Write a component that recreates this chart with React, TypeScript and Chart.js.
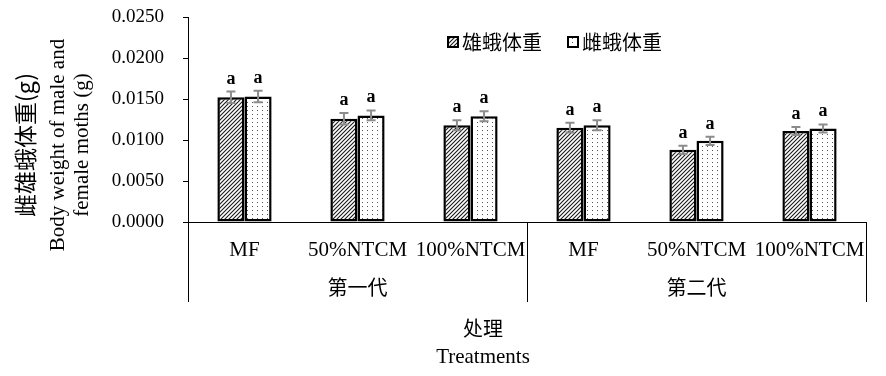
import React, { useEffect, useRef } from 'react';
import { Chart, registerables } from 'chart.js';

Chart.register(...registerables);

const categories = ['MF', '50%NTCM', '100%NTCM', 'MF', '50%NTCM', '100%NTCM'];
const generations = ['第一代', '第二代'];
const generationSize = 3;
const seriesNames = ['雄蛾体重', '雌蛾体重'];
const maleWeight = [0.0152, 0.0126, 0.0118, 0.0115, 0.0088, 0.0111];
const femaleWeight = [0.0153, 0.0130, 0.0129, 0.0118, 0.0099, 0.0114];
const maleErr = [0.0007, 0.0007, 0.0006, 0.0006, 0.0005, 0.0005];
const femaleErr = [0.0007, 0.0006, 0.0006, 0.0006, 0.0005, 0.0005];
const maleLetters = ['a', 'a', 'a', 'a', 'a', 'a'];
const femaleLetters = ['a', 'a', 'a', 'a', 'a', 'a'];
const yTitleCn = '雌雄蛾体重(g)';
const yTitleEn = ['Body weight of male and', 'female moths (g)'];
const xTitleCn = '处理';
const xTitleEn = 'Treatments';

const SERIF = '"Liberation Serif", "DejaVu Serif", serif';
const CJK = '"Noto Sans CJK SC", sans-serif';

function makeHatch(): CanvasPattern | string {
  const c = document.createElement('canvas');
  c.width = 4;
  c.height = 4;
  const g = c.getContext('2d');
  if (!g) return '#555';
  g.fillStyle = '#fff';
  g.fillRect(0, 0, 4, 4);
  g.strokeStyle = '#1a1a1a';
  g.lineWidth = 1.1;
  g.beginPath();
  g.moveTo(0, 4);
  g.lineTo(4, 0);
  g.moveTo(-1, 1);
  g.lineTo(1, -1);
  g.moveTo(3, 5);
  g.lineTo(5, 3);
  g.stroke();
  return g.createPattern(c, 'repeat') || '#555';
}

function makeDots(): CanvasPattern | string {
  const c = document.createElement('canvas');
  c.width = 5;
  c.height = 4;
  const g = c.getContext('2d');
  if (!g) return '#eee';
  g.fillStyle = '#fff';
  g.fillRect(0, 0, 5, 4);
  g.fillStyle = '#555';
  g.fillRect(2, 2, 1, 1);
  return g.createPattern(c, 'repeat') || '#eee';
}

export default function App() {
  const ref = useRef<HTMLCanvasElement | null>(null);

  useEffect(() => {
    if (!ref.current) return;
    const hatch = makeHatch();
    const dots = makeDots();
    const errs = [maleErr, femaleErr];
    const letters = [maleLetters, femaleLetters];
    const fills = [hatch, dots];

    const overlay = {
      id: 'overlay',
      afterDraw(chart: any) {
        const ctx = chart.ctx as CanvasRenderingContext2D;
        const xs = chart.scales.x;
        const ys = chart.scales.y;
        const area = chart.chartArea;
        ctx.save();

        // error bars + letters
        chart.data.datasets.forEach((ds: any, i: number) => {
          const meta = chart.getDatasetMeta(i);
          meta.data.forEach((bar: any, j: number) => {
            const v = ds.data[j] as number;
            const e = errs[i][j];
            const yt = ys.getPixelForValue(v + e);
            const yb = ys.getPixelForValue(v - e);
            ctx.strokeStyle = '#8c8c8c';
            ctx.lineWidth = 2;
            ctx.beginPath();
            ctx.moveTo(bar.x, yt);
            ctx.lineTo(bar.x, yb);
            ctx.moveTo(bar.x - 4.5, yt);
            ctx.lineTo(bar.x + 4.5, yt);
            ctx.moveTo(bar.x - 4.5, yb);
            ctx.lineTo(bar.x + 4.5, yb);
            ctx.stroke();
            ctx.fillStyle = '#000';
            ctx.font = 'bold 18px ' + SERIF;
            ctx.textAlign = 'center';
            ctx.textBaseline = 'alphabetic';
            ctx.fillText(letters[i][j], bar.x, yt - 8);
          });
        });

        // generation boxes
        const top = xs.top;
        const boxBottom = top + 80;
        const bounds: number[] = [area.left];
        for (let g = 1; g < generations.length; g++) {
          const k = g * generationSize;
          bounds.push((xs.getPixelForValue(k - 1) + xs.getPixelForValue(k)) / 2);
        }
        bounds.push(area.right);
        ctx.strokeStyle = '#000';
        ctx.lineWidth = 1;
        bounds.forEach((bx) => {
          const px = Math.round(bx) + 0.5;
          ctx.beginPath();
          ctx.moveTo(px, top);
          ctx.lineTo(px, boxBottom);
          ctx.stroke();
        });
        ctx.fillStyle = '#000';
        ctx.font = '20px ' + CJK;
        ctx.textAlign = 'center';
        ctx.textBaseline = 'middle';
        generations.forEach((gname, g) => {
          ctx.fillText(gname, (bounds[g] + bounds[g + 1]) / 2, top + 65);
        });

        // x title
        ctx.font = '20px ' + CJK;
        ctx.fillText(xTitleCn, 483, 328);
        ctx.font = '21px ' + SERIF;
        ctx.fillText(xTitleEn, 483, 357);

        // y title
        ctx.save();
        ctx.translate(25, 145);
        ctx.rotate(-Math.PI / 2);
        ctx.font = '23px ' + CJK;
        ctx.fillText(yTitleCn, 0, 0);
        ctx.restore();
        ctx.save();
        ctx.translate(58, 145);
        ctx.rotate(-Math.PI / 2);
        ctx.font = '21px ' + SERIF;
        ctx.fillText(yTitleEn[0], 0, 0);
        ctx.restore();
        ctx.save();
        ctx.translate(82, 145);
        ctx.rotate(-Math.PI / 2);
        ctx.font = '21px ' + SERIF;
        ctx.fillText(yTitleEn[1], 0, 0);
        ctx.restore();

        // legend
        const legendX = [448, 568];
        ctx.font = '20px ' + CJK;
        ctx.textAlign = 'left';
        ctx.textBaseline = 'middle';
        seriesNames.forEach((name, i) => {
          const lx = legendX[i];
          ctx.fillStyle = fills[i] as any;
          ctx.fillRect(lx, 37, 10, 10);
          ctx.strokeStyle = '#000';
          ctx.lineWidth = 2;
          ctx.strokeRect(lx, 37, 10, 10);
          ctx.fillStyle = '#000';
          ctx.fillText(name, lx + 14, 42);
        });

        ctx.restore();
      },
    };

    const chart = new Chart(ref.current, {
      type: 'bar',
      data: {
        labels: categories,
        datasets: [
          {
            label: seriesNames[0],
            data: maleWeight,
            backgroundColor: hatch as any,
            borderColor: '#000',
            borderWidth: 2.5,
            borderSkipped: false,
          },
          {
            label: seriesNames[1],
            data: femaleWeight,
            backgroundColor: dots as any,
            borderColor: '#000',
            borderWidth: 2.5,
            borderSkipped: false,
          },
        ],
      },
      options: {
        animation: false,
        responsive: true,
        maintainAspectRatio: false,
        layout: { padding: { top: 17, right: 20, left: 0, bottom: 0 } },
        datasets: { bar: { categoryPercentage: 0.48, barPercentage: 1.0 } },
        plugins: {
          legend: { display: false },
          tooltip: { enabled: false },
        },
        scales: {
          x: {
            type: 'category',
            grid: { display: false, drawTicks: false },
            border: { display: true, color: '#000', width: 1 },
            ticks: {
              color: '#000',
              font: { family: SERIF, size: 21 },
              padding: 16,
              maxRotation: 0,
              autoSkip: false,
            },
            afterFit(scale: any) {
              scale.height = 154;
              scale.paddingLeft = 0;
              scale.paddingRight = 0;
            },
          },
          y: {
            min: 0,
            max: 0.025,
            grid: { display: true, drawOnChartArea: false, drawTicks: true, tickLength: 5, color: '#000' },
            border: { display: true, color: '#000', width: 1 },
            ticks: {
              stepSize: 0.005,
              color: '#000',
              font: { family: SERIF, size: 19 },
              padding: 19,
              callback: (v: any) => Number(v).toFixed(4),
            },
            afterFit(scale: any) {
              scale.width = 188;
              scale.paddingTop = 0;
              scale.paddingBottom = 0;
            },
          },
        },
      },
      plugins: [overlay],
    });

    return () => chart.destroy();
  }, []);

  return (
    <div style={{ position: 'absolute', left: 0, top: 0, width: 886, height: 376, background: '#fff' }}>
      <canvas ref={ref} />
    </div>
  );
}
